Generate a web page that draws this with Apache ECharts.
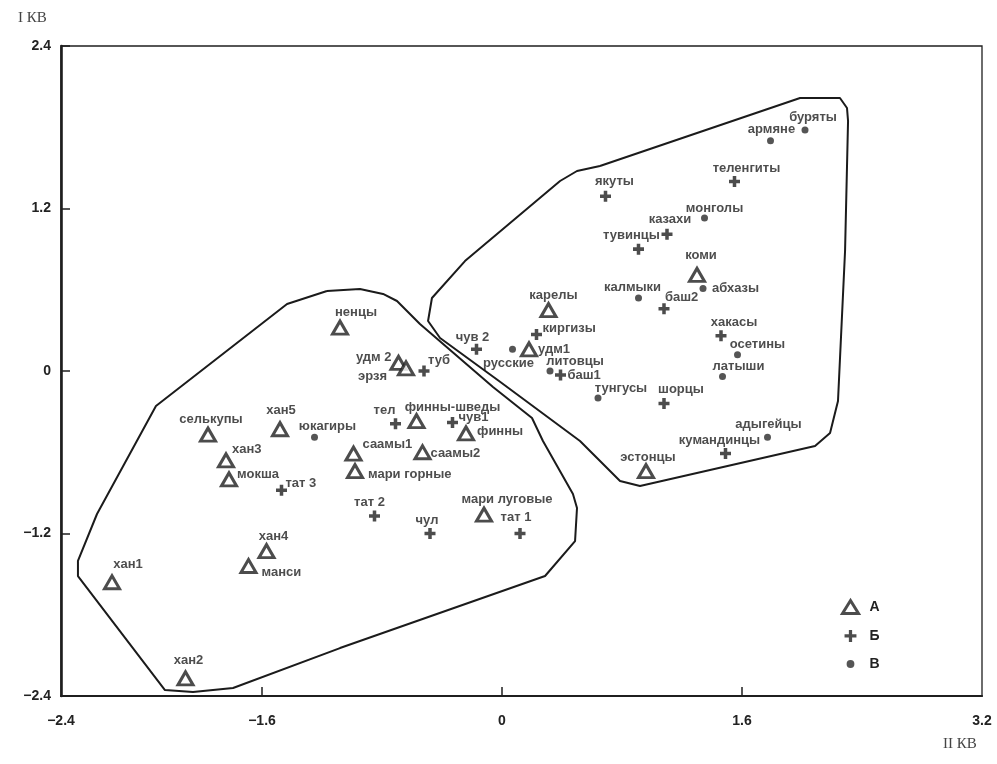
<!DOCTYPE html>
<html>
<head>
<meta charset="utf-8">
<script src="https://cdn.jsdelivr.net/npm/echarts/dist/echarts.min.js"></script>
<style>
html,body{margin:0;padding:0;background:#fff;}
#chart{width:997px;height:764px;}
</style>
</head>
<body>
<div id="chart"></div>
<script>
// ---------- data ----------
const seriesNames = ['А', 'Б', 'В'];

const groupA = [ // triangles
  ['ненцы', -1.08, 0.32], ['удм 2', -0.69, 0.06], ['эрзя', -0.64, 0.02],
  ['селькупы', -1.96, -0.47], ['хан5', -1.48, -0.43], ['хан3', -1.84, -0.66],
  ['мокша', -1.82, -0.80], ['финны-шведы', -0.57, -0.37], ['финны', -0.24, -0.46],
  ['саамы1', -0.99, -0.61], ['саамы2', -0.53, -0.60], ['мари горные', -0.98, -0.74],
  ['мари луговые', -0.12, -1.06], ['хан4', -1.57, -1.33], ['манси', -1.69, -1.44],
  ['хан1', -2.60, -1.56], ['хан2', -2.11, -2.27], ['карелы', 0.31, 0.45],
  ['удм1', 0.18, 0.16], ['коми', 1.30, 0.71], ['эстонцы', 0.96, -0.74]
];
const groupB = [ // crosses
  ['туб', -0.52, 0.00], ['тел', -0.71, -0.39], ['чув1', -0.33, -0.38],
  ['чув 2', -0.17, 0.16], ['тат 3', -1.47, -0.88], ['тат 2', -0.85, -1.07],
  ['чул', -0.48, -1.20], ['тат 1', 0.12, -1.20], ['киргизы', 0.23, 0.27],
  ['баш1', 0.39, -0.03], ['баш2', 1.08, 0.46], ['хакасы', 1.46, 0.26],
  ['шорцы', 1.08, -0.24], ['кумандинцы', 1.49, -0.61], ['якуты', 0.69, 1.29],
  ['тувинцы', 0.91, 0.90], ['казахи', 1.10, 1.01], ['теленгиты', 1.55, 1.40]
];
const groupC = [ // dots
  ['юкагиры', -1.25, -0.49], ['русские', 0.07, 0.16], ['литовцы', 0.32, 0.00],
  ['тунгусы', 0.64, -0.20], ['калмыки', 0.91, 0.54], ['абхазы', 1.34, 0.61],
  ['осетины', 1.57, 0.12], ['латыши', 1.47, -0.04], ['адыгейцы', 1.77, -0.49],
  ['монголы', 1.35, 1.13], ['армяне', 1.79, 1.70], ['буряты', 2.02, 1.78]
];

const hullLeft = [
  [-1.167, 0.591], [-0.947, 0.606], [-0.793, 0.569], [-0.70, 0.517], [-0.547, 0.347],
  [-0.06, -0.118], [0.20, -0.347], [0.273, -0.517], [0.473, -0.908], [0.50, -1.012],
  [0.487, -1.256], [0.287, -1.514], [-1.08, -2.046], [-1.793, -2.341], [-2.06, -2.371],
  [-2.247, -2.356], [-2.827, -1.514], [-2.827, -1.403], [-2.70, -1.056], [-2.307, -0.258],
  [-1.433, 0.495], [-1.167, 0.591]
];
const hullRight = [
  [0.653, 1.514], [1.987, 2.016], [2.253, 2.016], [2.30, 1.942], [2.307, 1.846],
  [2.287, 0.886], [2.24, -0.222], [2.187, -0.458], [2.087, -0.554], [0.92, -0.849],
  [0.787, -0.812], [0.52, -0.517], [-0.02, -0.074], [-0.413, 0.244], [-0.493, 0.369],
  [-0.467, 0.539], [-0.247, 0.812], [0.387, 1.403], [0.50, 1.477], [0.653, 1.514]
];

const xMin = -2.94, xMax = 3.2;
const xTickValues = [-2.94, -1.6, 0, 1.6, 3.2];
const xTickLabels = ['−2.4', '−1.6', '0', '1.6', '3.2'];
const xInnerTicks = [-1.6, 0, 1.6];
const yMin = -2.4, yMax = 2.4, yStep = 1.2;

// ---------- label layout (pixel offsets from marker: dx, dy, align) ----------
const labelPlace = {
  'ненцы': [16, -15, 'center'], 'удм 2': [-7, -5, 'right'], 'эрзя': [-19, 8, 'right'],
  'селькупы': [3, -15, 'center'], 'хан5': [1, -19, 'center'], 'хан3': [6, -11, 'left'],
  'мокша': [8, -5, 'left'], 'финны-шведы': [36, -14, 'center'], 'финны': [11, -2, 'left'],
  'саамы1': [9, -9, 'left'], 'саамы2': [8, 1, 'left'], 'мари горные': [13, 3, 'left'],
  'мари луговые': [23, -15, 'center'], 'хан4': [7, -15, 'center'], 'манси': [13, 6, 'left'],
  'хан1': [16, -18, 'center'], 'хан2': [3, -18, 'center'], 'карелы': [5, -15, 'center'],
  'удм1': [9, 0, 'left'], 'коми': [4, -19, 'center'], 'эстонцы': [2, -14, 'center'],
  'туб': [4, -11, 'left'], 'тел': [-11, -13, 'center'], 'чув1': [6, -5, 'left'],
  'чув 2': [-4, -12, 'center'], 'тат 3': [4, -7, 'left'], 'тат 2': [-5, -13, 'center'],
  'чул': [-3, -13, 'center'], 'тат 1': [-4, -16, 'center'], 'киргизы': [6, -6, 'left'],
  'баш1': [7, 0, 'left'], 'баш2': [1, -11, 'left'], 'хакасы': [13, -13, 'center'],
  'шорцы': [17, -14, 'center'], 'кумандинцы': [-6, -13, 'center'], 'якуты': [9, -15, 'center'],
  'тувинцы': [-7, -14, 'center'], 'казахи': [3, -15, 'center'], 'теленгиты': [12, -13, 'center'],
  'юкагиры': [13, -11, 'center'], 'русские': [-4, 14, 'center'], 'литовцы': [25, -10, 'center'],
  'тунгусы': [23, -10, 'center'], 'калмыки': [-6, -10, 'center'], 'абхазы': [9, 0, 'left'],
  'осетины': [20, -10, 'center'], 'латыши': [16, -10, 'center'], 'адыгейцы': [1, -13, 'center'],
  'монголы': [10, -10, 'center'], 'армяне': [1, -11, 'center'], 'буряты': [8, -13, 'center']
};

// ---------- build ----------
const INK = '#1f1f1f';
const labelFont = {fontFamily: 'Liberation Sans, Arial, sans-serif', fontWeight: 'bold', fontSize: 13, color: '#202020'};

function toItems(group) {
  return group.map(([name, x, y]) => {
    const p = labelPlace[name] || [0, -14, 'center'];
    return {
      name: name,
      value: [x, y],
      label: {
        show: true, position: 'inside', formatter: name,
        offset: [p[0], p[1]], align: p[2], verticalAlign: 'middle',
        ...labelFont
      }
    };
  });
}

const crossPath = 'path://M3.4,0H6.6V3.4H10V6.6H6.6V10H3.4V6.6H0V3.4H3.4Z';
const legendDot = 'path://M0,0h0.01v0.01z M14,12h0.01v0.01z M7,2.4a3.6,3.6 0 1,0 0.01,0z';
const legendCross = 'path://M0,0h0.01v0.01z M14,12h0.01v0.01z M5.5,0.5H8.5V4.5H12.5V7.5H8.5V11.5H5.5V7.5H1.5V4.5H5.5Z';

const chart = echarts.init(document.getElementById('chart'), null, {renderer: 'canvas'});
chart.setOption({
  backgroundColor: '#ffffff',
  animation: false,
  grid: {left: 61, right: 15, top: 46, bottom: 68, show: true, borderColor: INK, borderWidth: 1.3, backgroundColor: 'transparent'},
  xAxis: {
    type: 'value', min: xMin, max: xMax,
    axisLine: {show: true, onZero: false, lineStyle: {color: INK, width: 2.2}},
    splitLine: {show: false},
    axisTick: {show: true, inside: true, length: 9, customValues: xInnerTicks, lineStyle: {color: INK, width: 1.5}},
    axisLabel: {
      show: true, margin: 18, customValues: xTickValues,
      formatter: function (v) {
        const i = xTickValues.findIndex(t => Math.abs(t - v) < 1e-6);
        return i >= 0 ? xTickLabels[i] : '';
      },
      fontFamily: 'Liberation Sans, Arial, sans-serif', fontWeight: 'bold', fontSize: 14, color: '#222'
    }
  },
  yAxis: {
    type: 'value', min: yMin, max: yMax, interval: yStep,
    axisLine: {show: true, onZero: false, lineStyle: {color: INK, width: 2.6}},
    splitLine: {show: false},
    axisTick: {show: true, inside: true, length: 9, lineStyle: {color: INK, width: 1.5}},
    axisLabel: {
      show: true, margin: 10,
      formatter: function (v) { return v === 0 ? '0' : (v < 0 ? '−' + Math.abs(v).toFixed(1) : v.toFixed(1)); },
      fontFamily: 'Liberation Sans, Arial, sans-serif', fontWeight: 'bold', fontSize: 14, color: '#222'
    }
  },
  legend: {
    data: [
      {name: seriesNames[0], itemStyle: {color: '#ffffff', borderColor: INK, borderWidth: 3}},
      {name: seriesNames[1], icon: legendCross},
      {name: seriesNames[2], icon: legendDot}
    ],
    orient: 'vertical', left: 836, top: 594,
    itemWidth: 16, itemHeight: 13, itemGap: 14,
    textStyle: {fontFamily: 'Liberation Sans, Arial, sans-serif', fontWeight: 'bold', fontSize: 14, color: '#222', padding: [0, 0, 0, 6]}
  },
  graphic: [
    {type: 'text', left: 18, top: 11, style: {text: 'I КВ', font: '15px "Liberation Serif", serif', fill: '#444'}},
    {type: 'text', left: 943, top: 737, style: {text: 'II КВ', font: '15px "Liberation Serif", serif', fill: '#444'}}
  ],
  series: [
    {name: 'hullLeft', type: 'line', data: hullLeft, symbol: 'none', silent: true, z: 1,
     lineStyle: {color: '#1b1b1b', width: 2}},
    {name: 'hullRight', type: 'line', data: hullRight, symbol: 'none', silent: true, z: 1,
     lineStyle: {color: '#1b1b1b', width: 2}},
    {name: seriesNames[0], type: 'scatter', data: toItems(groupA), symbol: 'triangle', symbolSize: [15, 13], z: 3,
     itemStyle: {color: '#ffffff', borderColor: INK, borderWidth: 3}},
    {name: seriesNames[1], type: 'scatter', data: toItems(groupB), symbol: crossPath, symbolSize: 11, z: 3,
     itemStyle: {color: INK}},
    {name: seriesNames[2], type: 'scatter', data: toItems(groupC), symbol: 'circle', symbolSize: 7, z: 3,
     itemStyle: {color: '#2a2a2a'}}
  ]
});
</script>
</body>
</html>
